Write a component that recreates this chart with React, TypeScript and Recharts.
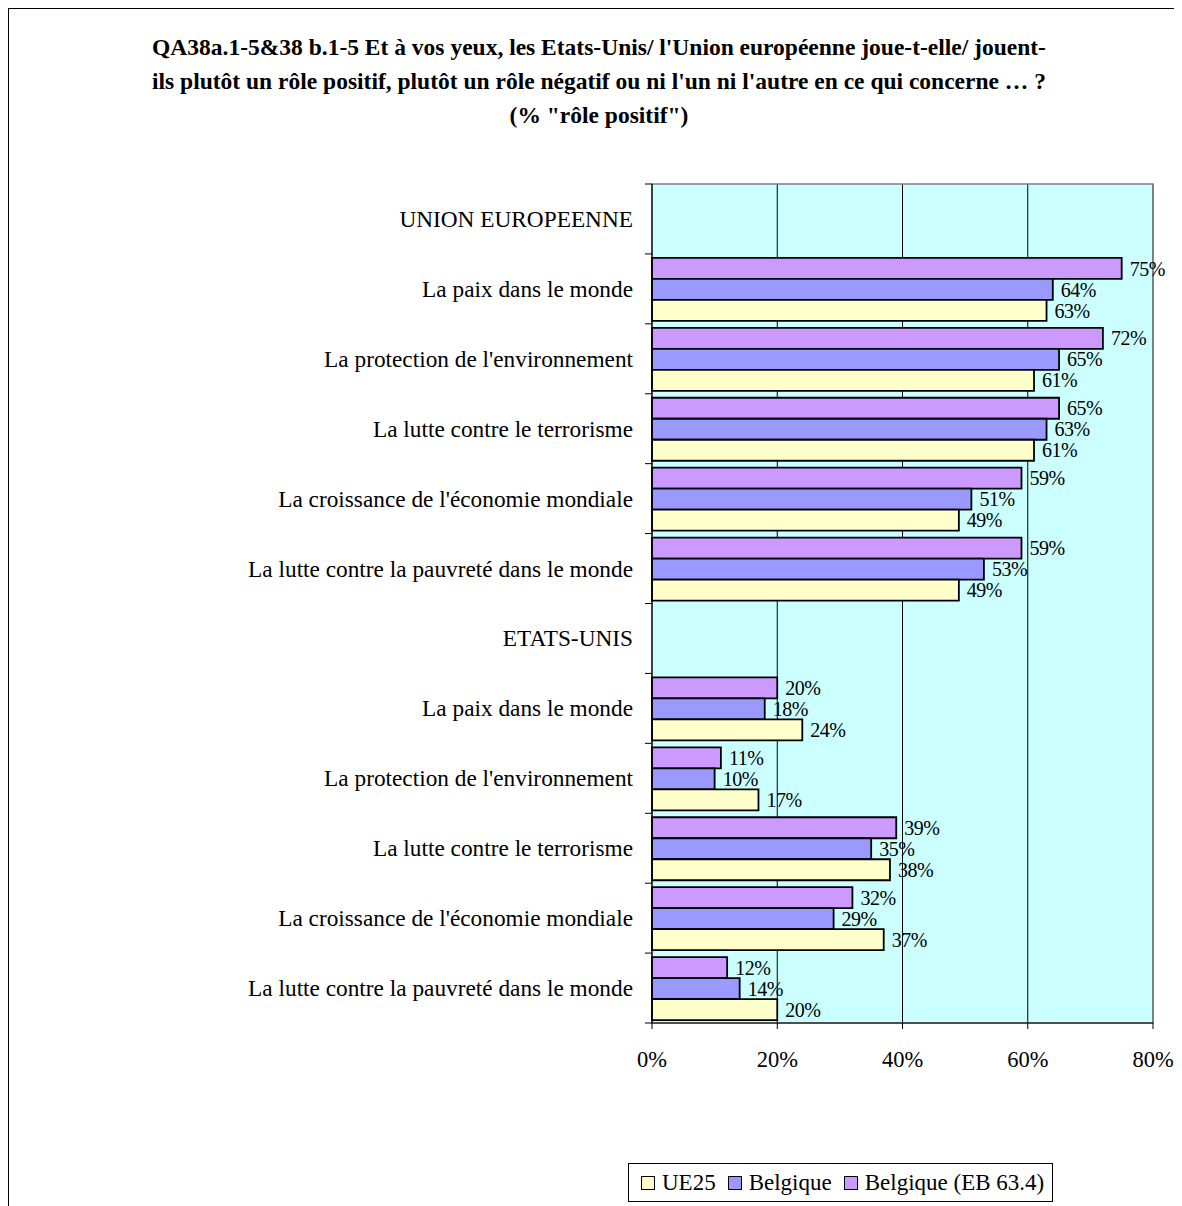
import { BarChart, Bar, XAxis, YAxis, CartesianGrid, LabelList, ReferenceArea } from "recharts";

const categories = [
  "UNION EUROPEENNE",
  "La paix dans le monde",
  "La protection de l'environnement",
  "La lutte contre le terrorisme",
  "La croissance de l'économie mondiale",
  "La lutte contre la pauvreté dans le monde",
  "ETATS-UNIS",
  "La paix dans le monde",
  "La protection de l'environnement",
  "La lutte contre le terrorisme",
  "La croissance de l'économie mondiale",
  "La lutte contre la pauvreté dans le monde",
];
const ue25 = [null, 63, 61, 61, 49, 49, null, 24, 17, 38, 37, 20];
const belgique = [null, 64, 65, 63, 51, 53, null, 18, 10, 35, 29, 14];
const belgiqueEb = [null, 75, 72, 65, 59, 59, null, 20, 11, 39, 32, 12];
const xTicks = [0, 20, 40, 60, 80];

const series = [
  { key: "ue25", name: "UE25", color: "#FFFFCC" },
  { key: "be", name: "Belgique", color: "#9999FF" },
  { key: "beEb", name: "Belgique (EB 63.4)", color: "#CC99FF" },
];

const data = categories.map((c, i) => ({ id: i, ue25: ue25[i], be: belgique[i], beEb: belgiqueEb[i] }));

const FONT = "'Liberation Serif', 'Times New Roman', serif";
const PLOT_H = 839;
const BAND = PLOT_H / categories.length;

function CatTick(props: any) {
  const { x, y, payload } = props;
  const last = payload.value === categories.length - 1;
  return (
    <g>
      <line x1={x - 7} x2={x} y1={y - BAND / 2} y2={y - BAND / 2} stroke="#000" />
      {last && <line x1={x - 7} x2={x} y1={y + BAND / 2} y2={y + BAND / 2} stroke="#000" />}
      <text x={x - 19} y={y} textAnchor="end" dominantBaseline="central" fontFamily={FONT} fontSize={23.3} fill="#000">
        {categories[payload.value]}
      </text>
    </g>
  );
}

export default function App() {
  return (
    <div style={{ position: "relative", width: 1174, height: 1198, borderTop: "1px solid #000", borderLeft: "1.5px solid #000", boxSizing: "border-box", fontFamily: FONT }}>
      <div style={{ position: "absolute", top: 21, left: 0, width: 1180, textAlign: "center", fontWeight: "bold", fontSize: 23.5, lineHeight: "34px" }}>
        QA38a.1-5&amp;38 b.1-5 Et à vos yeux, les Etats-Unis/ l'Union européenne joue-t-elle/ jouent-
        <br />
        ils plutôt un rôle positif, plutôt un rôle négatif ou ni l'un ni l'autre en ce qui concerne … ?
        <br />
        (% "rôle positif")
      </div>
      <div style={{ position: "absolute", top: 0, left: 0 }}>
        <BarChart
          width={1174}
          height={1140}
          data={data}
          layout="vertical"
          margin={{ top: 175, right: 30, bottom: 76, left: 0 }}
          barCategoryGap={4}
          barGap={0}
        >
          <CartesianGrid horizontal={false} stroke="#000" fill="#CCFFFF" />
          <ReferenceArea x1={0} x2={80} fill="none" stroke="#808080" strokeWidth={1.5} />
          <XAxis
            type="number"
            domain={[0, 80]}
            ticks={xTicks}
            tickFormatter={(v) => `${v}%`}
            stroke="#000"
            tickSize={6}
            tickMargin={22}
            height={50}
            tick={{ fontFamily: FONT, fontSize: 22.5, fill: "#000" }}
          />
          <YAxis
            type="category"
            dataKey="id"
            width={643}
            stroke="#000"
            tickSize={0}
            tickMargin={0}
            tickLine={false}
            interval={0}
            tick={<CatTick />}
          />
          {[...series].reverse().map((s) => (
            <Bar key={s.key} dataKey={s.key} name={s.name} fill={s.color} stroke="#000" strokeWidth={1.8} isAnimationActive={false}>
              <LabelList
                dataKey={s.key}
                position="right"
                offset={8}
                formatter={(v: any) => (v == null ? "" : `${v}%`)}
                style={{ fontFamily: FONT, fontSize: 20, fill: "#000", letterSpacing: -0.5 }}
              />
            </Bar>
          ))}
        </BarChart>
      </div>
      <div
        style={{
          position: "absolute",
          left: 619,
          top: 1154,
          width: 425,
          height: 39,
          border: "1px solid #000",
          boxSizing: "border-box",
          display: "flex",
          alignItems: "center",
          paddingLeft: 12,
          fontSize: 23,
          whiteSpace: "nowrap",
        }}
      >
        {series.map((s, i) => (
          <span key={s.key} style={{ display: "inline-flex", alignItems: "center", marginRight: i < series.length - 1 ? 12 : 0 }}>
            <span style={{ display: "inline-block", width: 12, height: 12, background: s.color, border: "1.5px solid #000", marginRight: 7 }} />
            {s.name}
          </span>
        ))}
      </div>
    </div>
  );
}
